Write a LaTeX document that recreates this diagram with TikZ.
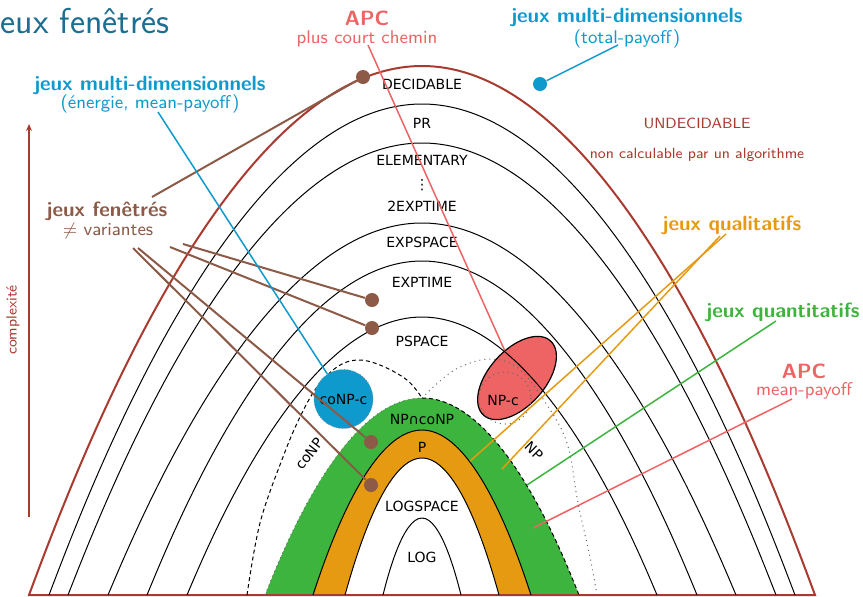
\documentclass[tikz,border=0pt]{standalone}
\usepackage{fontspec}
\newfontfamily\classfont{DejaVu Sans}
\usepackage{xcolor}
\definecolor{titleblue}{HTML}{1D6F91}
\definecolor{brick}{HTML}{A93A2F}
\definecolor{bark}{HTML}{8C5A46}
\definecolor{sky}{HTML}{0E9ACD}
\definecolor{salmon}{HTML}{EE6464}
\definecolor{saffron}{HTML}{E69A12}
\definecolor{grass}{HTML}{3DB43D}
\usetikzlibrary{arrows.meta,shapes.geometric}
\tikzset{
  arch/.style  ={draw=black,line width=0.5pt},
  cls/.style   ={font=\classfont\fontsize{7}{8}\selectfont,inner sep=0pt},
  blob/.style  ={circle,inner sep=0pt,minimum size=7pt},
  hdl/.style   ={font=\sffamily\bfseries\fontsize{10.3}{12}\selectfont,
                 inner sep=0pt,anchor=base},
  subl/.style  ={font=\sffamily\fontsize{9.2}{11}\selectfont,
                 inner sep=0pt,anchor=base},
  note/.style  ={font=\sffamily\fontsize{7.4}{9}\selectfont,
                 inner sep=0pt,anchor=base},
  conp/.style  ={draw=black,line width=0.5pt,dash pattern=on 2pt off 1.5pt},
  np/.style    ={draw=black!60,line width=0.5pt,dotted},
  lead/.style  ={line width=0.75pt},
}
\begin{document}
\begin{tikzpicture}[x=0.5pt,y=-0.5pt]
\useasboundingbox (0,0) rectangle (863,596);
\clip (0,0) rectangle (863,596);
% NP-complete, below the arches
\node[ellipse,draw=black,line width=0.6pt,fill=salmon,rotate=48,inner sep=0pt,
      minimum width=50pt,minimum height=28pt] (npc) at (517,378) {};
% bands: NP cap coNP, P, LOGSPACE
\fill[grass]   (265,595) parabola bend (422,398) (579,595) -- cycle;
\fill[saffron] (313,595) parabola bend (422,430) (531,595) -- cycle;
\fill[white]   (345,595) parabola bend (422,458) (499,595) -- cycle;
% decidable, then nested classes
\draw[brick,line width=1pt] (29,595) parabola bend (422,66) (815,595) -- cycle;
\foreach \b/\t in {49/104,68/143,108/223,147/261,187/317,313/430,345/458,383/518}
  \draw[arch] (\b,595) parabola bend (422,\t) ({844-\b},595);
% coNP (dashed) and NP (dotted)
\draw[conp] plot[smooth,tension=0.6] coordinates {(247,595) (260,523) (283,457)
  (300,417) (317,387) (337,367) (357,360) (380,365) (407,380) (422,398)};
\draw[conp] (422,398) parabola[bend at start] (579,595);
\draw[np] plot[smooth,tension=0.6] coordinates {(597,595) (590,557) (578,503)
  (567,443) (545,402) (518,368) (490,359) (460,367) (440,381) (422,398)};
\draw[np] (265,595) parabola[bend at end] (422,398);
\draw[np] (505,398) circle[radius=26];
\node[circle,fill=sky,draw=black!45,densely dotted,inner sep=0pt,minimum size=29.5pt,
      cls] (conpc) at (343.5,399) {coNP-c};
% class names
\node[cls] (cDec)  at (422,84)  {DECIDABLE};
\node[cls] (cPR)   at (422,123) {PR};
\node[cls] (cElem) at (422,160) {ELEMENTARY};
\node[cls] (cDots) at (422,185) {⋮};
\node[cls] (c2Exp) at (422,206) {2EXPTIME};
\node[cls] (cExps) at (422,242) {EXPSPACE};
\node[cls] (cExpt) at (422,282) {EXPTIME};
\node[cls] (cPsp)  at (422,341) {PSPACE};
\node[cls] (cNPco) at (422,419) {NP∩coNP};
\node[cls] (cP)    at (422,447) {P};
\node[cls] (cLogs) at (422,506) {LOGSPACE};
\node[cls] (cLog)  at (422,557) {LOG};
\node[cls] (cNPcL) at (503,400) {NP-c};
\node[cls,rotate=52] (cCoNP) at (309,454) {coNP};
\node[cls,rotate=-45] (cNP) at (534,451) {NP};
% titles and notes
\node[font=\sffamily\fontsize{18}{22}\selectfont,text=titleblue,inner sep=0pt,
      anchor=base east] (ttl) at (170,33) {jeux fenêtrés};
\node[hdl,text=sky] (multiL) at (150,90) {jeux multi-dimensionnels};
\node[subl,text=sky] (multiLsub) at (150,108) {(énergie, mean-payoff)};
\node[hdl,text=salmon] (apcT) at (367,25) {APC};
\node[subl,text=salmon] (apcTsub) at (367,43) {plus court chemin};
\node[hdl,text=sky] (multiR) at (627,22) {jeux multi-dimensionnels};
\node[subl,text=sky] (multiRsub) at (627,43) {(total-payoff)};
\node[note,text=brick] (undec) at (697,128) {UNDECIDABLE};
\node[note,text=brick] (undecSub) at (697,158) {non calculable par un algorithme};
\node[hdl,text=bark] (fen) at (107,216) {jeux fenêtrés};
\node[subl,text=bark] (fenSub) at (108,235) {$\neq$ variantes};
\node[note,text=brick,rotate=90,anchor=center] (cplx) at (13,320) {complexité};
\node[hdl,text=saffron] (qual) at (732,230) {jeux qualitatifs};
\node[hdl,text=grass] (quant) at (783,317) {jeux quantitatifs};
\node[hdl,text=salmon] (apcR) at (804,378) {APC};
\node[subl,text=salmon] (apcRsub) at (804,395) {mean-payoff};
% complexity axis
\coordinate (axLow) at (29,517);
\coordinate (axTop) at (29,124);
\draw[brick,line width=0.8pt,-{Stealth[length=3.5pt,width=3pt]}] (axLow) -- (axTop);
% dots
\node[blob,fill=bark] (dDec) at (363,77) {};
\node[blob,fill=bark] (dExp) at (372,300) {};
\node[blob,fill=bark] (dPsp) at (372,328) {};
\node[blob,fill=bark] (dNPco) at (371,442) {};
\node[blob,fill=bark] (dP) at (371,485) {};
\node[blob,fill=sky] (dTot) at (540,84) {};
% leader lines
\coordinate (fenA) at (152,197);
\coordinate (fenB) at (183,244);
\coordinate (fenC) at (170,247);
\coordinate (fenD) at (138,248);
\coordinate (fenE) at (133,248);
\coordinate (multiLA) at (158,112);
\coordinate (multiRA) at (618,45);
\coordinate (apcTA) at (368,45);
\coordinate (qualA) at (726,234);
\coordinate (qualB) at (720,236);
\coordinate (qualP) at (470,461);
\coordinate (qualNP) at (502,469);
\coordinate (quantA) at (776,321);
\coordinate (quantEnd) at (527,485);
\coordinate (apcRA) at (792,399);
\coordinate (apcREnd) at (533,528);
\draw[lead,bark,line width=1pt] (fenA) -- (dDec);
\draw[lead,bark,line width=1pt] (fenB) -- (dExp);
\draw[lead,bark,line width=1pt] (fenC) -- (dPsp);
\draw[lead,bark,line width=1pt] (fenD) -- (dNPco);
\draw[lead,bark,line width=1pt] (fenE) -- (dP);
\draw[lead,sky] (multiLA) -- (conpc);
\draw[lead,sky] (dTot) -- (multiRA);
\draw[lead,salmon] (apcTA) -- (npc);
\draw[lead,saffron] (qualA) -- (qualP);
\draw[lead,saffron] (qualB) -- (qualNP);
\draw[lead,grass] (quantA) -- (quantEnd);
\draw[lead,salmon] (apcRA) -- (apcREnd);
\end{tikzpicture}
\end{document}
